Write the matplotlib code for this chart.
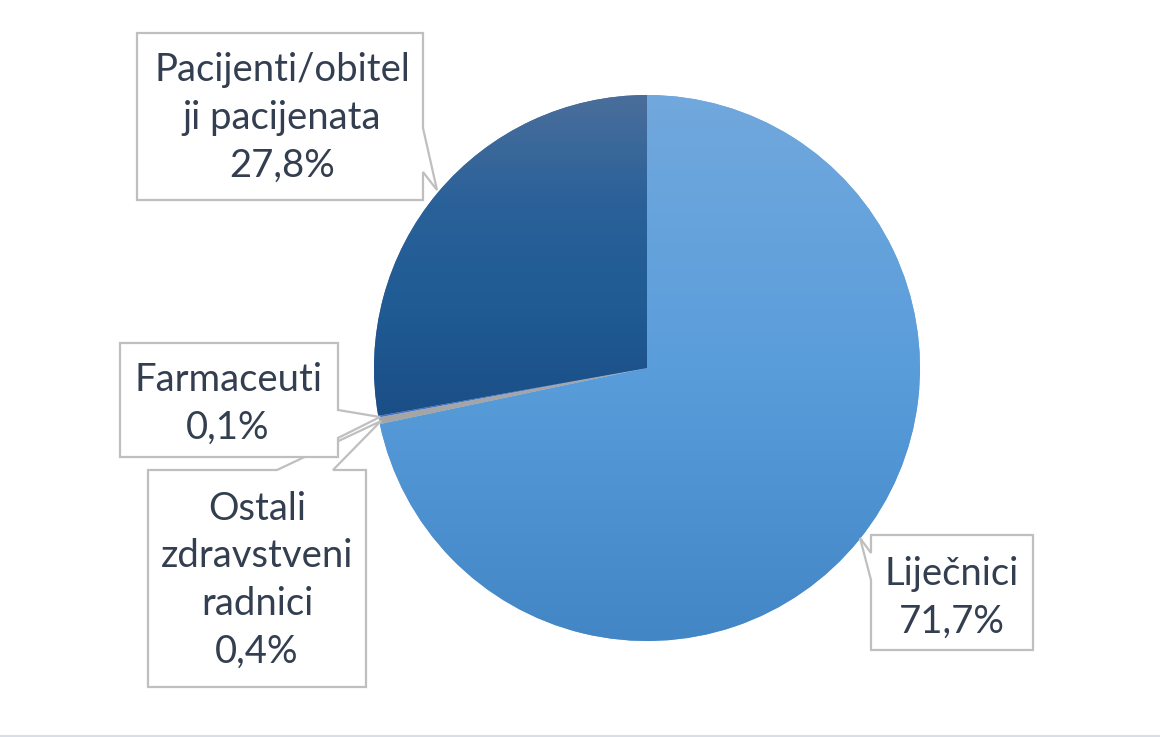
import matplotlib
matplotlib.use('Agg')
import matplotlib.pyplot as plt
from matplotlib.colors import LinearSegmentedColormap
from matplotlib.patches import Polygon
import numpy as np

# data
labels = ['Liječnici', 'Ostali\nzdravstveni\nradnici', 'Farmaceuti', 'Pacijenti/obitel\nji pacijenata']
values = [71.7, 0.4, 0.1, 27.8]
value_text = ['71,7%', '0,4%', '0,1%', '27,8%']

# wedge fills (top -> bottom gradient stops)
fills = [
    ['#71a8dd', '#5a9ddb', '#4386c6'],
    ['#a5a5a5', '#a5a5a5', '#a5a5a5'],
    ['#4472c4', '#4472c4', '#4472c4'],
    ['#4a6e9b', '#2a6199', '#205b94', '#1b4e86'],
]

W, H = 1160, 737
fig = plt.figure(figsize=(W / 100, H / 100), dpi=100)
ax = fig.add_axes([0, 0, 1, 1])

cx, cy, R = 647, 368, 273
# y axis is inverted (pixel style) -> start at -90, counterclock gives clockwise on screen
wedges, _ = ax.pie(values, radius=R, center=(cx, cy), startangle=-90,
                   counterclock=True, wedgeprops=dict(linewidth=0))

for w, cols in zip(wedges, fills):
    w.set_facecolor(cols[0])
    if len(set(cols)) == 1:
        continue
    ext = w.get_path().get_extents(w.get_transform() - ax.transData)
    cmap = LinearSegmentedColormap.from_list('g', cols)
    grad = np.linspace(0, 1, 256).reshape(-1, 1)
    im = ax.imshow(grad, cmap=cmap, origin='upper', aspect='auto',
                   extent=(ext.x0, ext.x1, ext.y1, ext.y0), zorder=2)
    im.set_clip_path(w)

# callout boxes (pixel coords)
callouts = {
    'Liječnici': [(871, 535), (1033, 535), (1033, 650), (871, 650), (871, 580), (860, 538), (871, 553)],
    'Ostali': [(148, 470), (277, 470), (381, 421), (333, 470), (366, 470), (366, 687), (148, 687)],
    'Farmaceuti': [(120, 343), (338, 343), (338, 410), (380, 417), (338, 438), (338, 457), (120, 457)],
    'Pacijenti': [(137, 33), (423, 33), (423, 128), (437, 190), (423, 172), (423, 200), (137, 200)],
}
text_pos = [(952, 598), (257, 580), (228, 404), (282, 118)]

for lab, txt, pos, key in zip(labels, value_text, text_pos, callouts):
    ax.add_patch(Polygon(callouts[key], closed=True, facecolor='white',
                         edgecolor='#bfbfbf', linewidth=1.6, zorder=4))
    ax.text(pos[0], pos[1], lab + '\n' + txt, ha='center', va='center',
            fontsize=27.5, family='Lato', color='#333f50', linespacing=1.4, zorder=5)

ax.plot([0, W], [736, 736], color='#d9dee6', lw=1.5, zorder=6)

ax.set_xlim(0, W)
ax.set_ylim(H, 0)
ax.axis('off')

fig.savefig('out.png', dpi=100, facecolor='white')
